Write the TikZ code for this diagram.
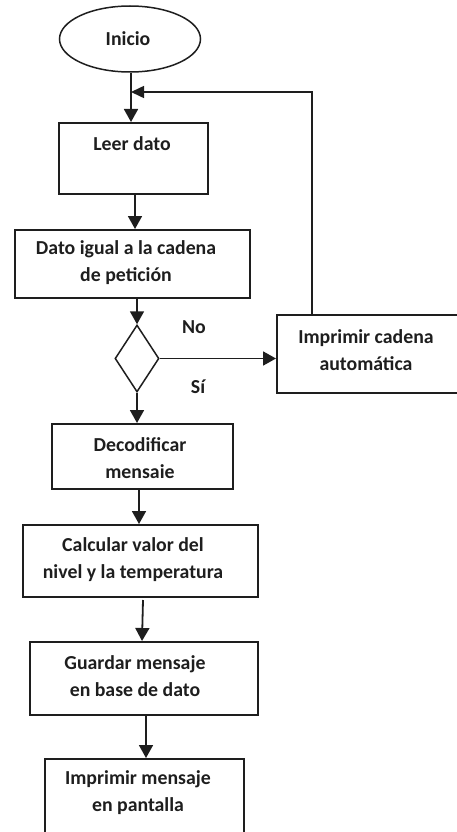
\documentclass[tikz,border=0pt]{standalone}
\usepackage{fontspec}
\setmainfont{Carlito}
\usetikzlibrary{arrows.meta,shapes.geometric}
\definecolor{ink}{HTML}{1E1E1E}
\tikzset{
  box/.style={draw=ink,line width=1.8pt,rectangle,inner sep=0pt,anchor=north west},
  lbl/.style={text=ink,font=\fontsize{19.8}{27}\selectfont\bfseries,align=center,inner sep=0pt},
  arr/.style={draw=ink,line width=1.8pt,-{Triangle[width=14pt,length=13pt]}},
  ln/.style={draw=ink,line width=1.5pt}
}
\begin{document}
\begin{tikzpicture}[x=1pt,y=-1pt]
\useasboundingbox (0,0) rectangle (457,832);
\clip (0,0) rectangle (457,832);
% start
\node[draw=ink,line width=1.5pt,ellipse,minimum width=141pt,minimum height=66pt,inner sep=0pt] (ini) at (130,39) {};
\node[lbl] (tini) at (128,39) {Inicio};
% boxes
\node[box,minimum width=149pt,minimum height=71pt] (leer) at (58,122) {};
\node[lbl] (tleer) at (132,144) {Leer dato};
\node[box,minimum width=235pt,minimum height=68pt] (dato) at (14,229) {};
\node[lbl] (tdato) at (126,263) {Dato igual a la cadena\\de petición};
\node[draw=ink,line width=1.5pt,diamond,minimum width=44pt,minimum height=67pt,inner sep=0pt] (dec) at (137,358.5) {};
\node[box,minimum width=200pt,minimum height=78pt] (impc) at (276,314) {};
\node[lbl] (timpc) at (366,350) {Imprimir cadena\\automática};
\node[box,minimum width=181pt,minimum height=65pt] (deco) at (51,423) {};
\node[lbl] (tdeco) at (140,458) {Decodificar\\mensaie};
\node[box,minimum width=235pt,minimum height=72pt] (calc) at (22,524) {};
\node[lbl] (tcalc) at (133,560) {Calcular valor del\\nivel y la temperatura};
\node[box,minimum width=228pt,minimum height=73pt] (guar) at (29,641) {};
\node[lbl] (tguar) at (135,676.5) {Guardar mensaje\\en base de dato};
\node[box,minimum width=199pt,minimum height=90pt] (impm) at (44,758) {};
\node[lbl] (timpm) at (138,792.5) {Imprimir mensaje\\en pantalla};
% labels
\node[lbl] (no) at (194,327) {No};
\node[lbl] (si) at (198,387) {Sí};
% connectors
\coordinate (j) at (131,92);
\draw[arr] (ini.south -| j) -- (j |- leer.north);
\draw[arr] (leer.south -| 135,0) -- (dato.north -| 135,0);
\draw[arr] (dato.south -| dec.north) -- (dec.north);
\draw[arr] (dec.east) -- (dec.east -| impc.west);
\draw[ln,-{Triangle[width=12pt,length=13pt]}] (impc.north -| 312,0) -- (312,92) -- (j);
\draw[arr] (dec.south) -- (dec.south |- deco.north);
\draw[arr] (deco.south -| 139,0) -- (calc.north -| 139,0);
\draw[arr] (143,600) -- (guar.north -| 142,0);
\draw[arr] (146,716) -- (impm.north -| 146,0);
\end{tikzpicture}
\end{document}
